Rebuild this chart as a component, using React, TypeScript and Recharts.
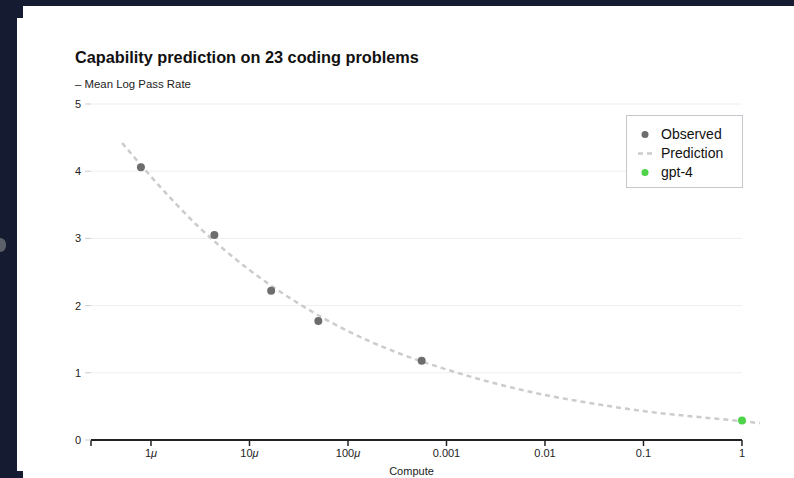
import React from "react";
import {
  ComposedChart,
  Line,
  Scatter,
  XAxis,
  YAxis,
  ReferenceLine,
  Label,
} from "recharts";

// Observed points (compute as a fraction of GPT-4 compute)
const OBS_X = [7.9e-7, 4.4e-6, 1.66e-5, 5.0e-5, 5.6e-4];
const OBS_Y = [4.06, 3.05, 2.22, 1.77, 1.18];

// GPT-4 point
const GPT4_X = [1];
const GPT4_Y = [0.29];

// Prediction curve
const PRED_X = [5.1e-7, 1e-6, 3.16e-6, 1e-5, 3.16e-5, 1e-4, 3.16e-4, 1e-3, 3.16e-3, 1e-2, 3.16e-2, 0.1, 0.316, 1, 1.52];
const PRED_Y = [4.42, 3.92, 3.15, 2.53, 2.03, 1.62, 1.3, 1.05, 0.84, 0.67, 0.54, 0.43, 0.35, 0.28, 0.25];

// Axis ticks
const X_MIN = 2.46e-7;
const X_MAX = 1.524;
const X_TICKS = [X_MIN, 1e-6, 1e-5, 1e-4, 1e-3, 1e-2, 0.1, 1];
const X_TICK_LABELS = ["", "1μ", "10μ", "100μ", "0.001", "0.01", "0.1", "1"];
const Y_TICKS = [0, 1, 2, 3, 4, 5];
const GRID_Y = [1, 2, 3, 4, 5];

const observed = OBS_X.map((x, i) => ({ x, y: OBS_Y[i] }));
const gpt4 = GPT4_X.map((x, i) => ({ x, y: GPT4_Y[i] }));
const prediction = PRED_X.map((x, i) => ({ x, y: PRED_Y[i] }));

const FONT = '"Liberation Sans", Arial, Helvetica, sans-serif';

const XTick = (props: any) => {
  const { x, y, payload } = props;
  const idx = X_TICKS.indexOf(payload.value);
  const label = idx >= 0 ? X_TICK_LABELS[idx] : "";
  if (!label) return null;
  const isMicro = label.endsWith("μ");
  return (
    <text x={x} y={y + 9} textAnchor="middle" fontSize={11} fill="#222" fontFamily={FONT}>
      {isMicro ? (
        <>
          {label.slice(0, -1)}
          <tspan fontStyle="italic">μ</tspan>
        </>
      ) : (
        label
      )}
    </text>
  );
};

const dot = (color: string) => (props: any) =>
  <circle cx={props.cx} cy={props.cy} r={4} fill={color} />;

export default function App() {
  return (
    <div
      style={{
        position: "fixed",
        left: 0,
        top: 0,
        width: 794,
        height: 478,
        background: "#151b30",
        fontFamily: FONT,
        overflow: "hidden",
      }}
    >
      {/* white card */}
      <div style={{ position: "absolute", left: 23, top: 6, width: 771, height: 472, background: "#fff" }} />
      <div style={{ position: "absolute", left: 17, top: 18, width: 6, height: 453, background: "#fff" }} />
      {/* side arrow nub */}
      <div
        style={{
          position: "absolute",
          left: 0,
          top: 238,
          width: 6,
          height: 14,
          background: "#5c6068",
          borderRadius: "0 8px 8px 0",
        }}
      />

      {/* title */}
      <div
        style={{
          position: "absolute",
          left: 75,
          top: 49.3,
          fontSize: 16.3,
          lineHeight: "16px",
          fontWeight: 700,
          color: "#111",
          whiteSpace: "nowrap",
        }}
      >
        Capability prediction on 23 coding problems
      </div>
      <div
        style={{
          position: "absolute",
          left: 75,
          top: 78.5,
          fontSize: 11.4,
          lineHeight: "11px",
          color: "#222",
          whiteSpace: "nowrap",
        }}
      >
        – Mean Log Pass Rate
      </div>

      <div style={{ position: "absolute", left: 0, top: 0 }}>
        <ComposedChart width={794} height={478} margin={{ top: 104, right: 34, bottom: 0, left: 31 }}>
          <XAxis
            dataKey="x"
            type="number"
            scale="log"
            domain={[X_MIN, X_MAX]}
            allowDataOverflow
            ticks={X_TICKS}
            axisLine={false}
            tickLine={{ stroke: "#222", strokeWidth: 1.5 }}
            tickSize={6}
            height={38}
            tick={<XTick />}
            interval={0}
          >
            <Label
              value="Compute"
              position="insideBottom"
              offset={3}
              dx={-14}
              style={{ fontSize: 11, fill: "#222", fontFamily: FONT }}
            />
          </XAxis>
          <YAxis
            dataKey="y"
            type="number"
            domain={[0, 5]}
            ticks={Y_TICKS}
            width={60}
            axisLine={false}
            tickLine={{ stroke: "#cccccc" }}
            tickSize={6}
            tickMargin={4}
            tick={{ fontSize: 11, fill: "#222", fontFamily: FONT }}
          />
          {GRID_Y.map((g) => (
            <ReferenceLine
              key={g}
              segment={[
                { x: X_MIN, y: g },
                { x: 1, y: g },
              ]}
              stroke="#eeeeee"
              strokeWidth={1}
            />
          ))}
          <ReferenceLine
            segment={[
              { x: X_MIN, y: 0 },
              { x: 1, y: 0 },
            ]}
            stroke="#222"
            strokeWidth={2}
          />
          <Line
            data={prediction}
            dataKey="y"
            type="monotone"
            stroke="#cccccc"
            strokeWidth={2.5}
            strokeDasharray="5 4"
            dot={false}
            activeDot={false}
            isAnimationActive={false}
          />
          <Scatter data={observed} dataKey="y" shape={dot("#6d6d6d")} isAnimationActive={false} />
          <Scatter data={gpt4} dataKey="y" shape={dot("#4fd34a")} isAnimationActive={false} />
        </ComposedChart>
      </div>

      {/* legend */}
      <div
        style={{
          position: "absolute",
          left: 626,
          top: 115,
          width: 115,
          height: 71,
          border: "1px solid #c6c6cc",
          background: "#fff",
          fontSize: 14,
          color: "#111",
        }}
      >
        {[
          { name: "Observed", kind: "dot", color: "#6d6d6d" },
          { name: "Prediction", kind: "dash", color: "#cccccc" },
          { name: "gpt-4", kind: "dot", color: "#4fd34a" },
        ].map((it, i) => (
          <div
            key={it.name}
            style={{ position: "absolute", left: 0, top: 9 + i * 19, height: 19, width: 115, lineHeight: "19px" }}
          >
            <svg width={24} height={19} style={{ position: "absolute", left: 10, top: 0 }}>
              {it.kind === "dot" ? (
                <circle cx={8} cy={9.5} r={3.5} fill={it.color} />
              ) : (
                <line x1={1} y1={9.5} x2={17} y2={9.5} stroke={it.color} strokeWidth={2.5} strokeDasharray="5 4" />
              )}
            </svg>
            <span style={{ position: "absolute", left: 34, top: 0 }}>{it.name}</span>
          </div>
        ))}
      </div>
    </div>
  );
}
